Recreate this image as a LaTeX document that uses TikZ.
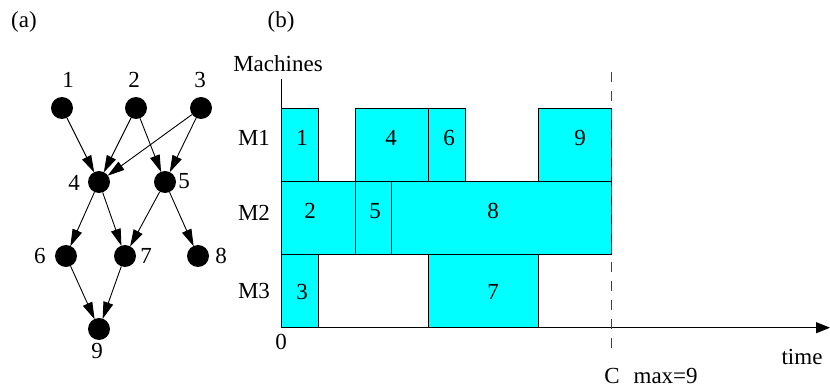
\documentclass[tikz,border=0pt]{standalone}
\usepackage{fontspec}
\setmainfont{Liberation Serif}
\usetikzlibrary{arrows.meta}
\definecolor{aqua}{RGB}{0,255,255}
\begin{document}
\begin{tikzpicture}[x=1pt,y=-1pt,
  font=\fontsize{23}{27}\selectfont,
  dot/.style={circle,fill=black,draw=none,minimum size=22pt,inner sep=0pt},
  lab/.style={inner sep=0pt,anchor=center},
  edge/.style={line width=0.9pt,-{Triangle[length=17pt,width=10pt]}, shorten >=-0.5pt},
  task/.style={draw=black,line width=0.9pt,fill=aqua},
  axis/.style={line width=0.9pt}]
\useasboundingbox (0,0) rectangle (830,387);
% ---------- (a) graph ----------
\node[lab] (ta) at (24,22) {(a)};
\node[dot] (n1) at (62,108) {};
\node[dot] (n2) at (136,108) {};
\node[dot] (n3) at (201,108) {};
\node[dot] (n4) at (99,182) {};
\node[dot] (n5) at (165,182) {};
\node[dot] (n6) at (66,256) {};
\node[dot] (n7) at (125,256) {};
\node[dot] (n8) at (198,256) {};
\node[dot] (n9) at (99,329) {};
\node[lab] (l1) at (68,80) {1};
\node[lab] (l2) at (134,80) {2};
\node[lab] (l3) at (200,80) {3};
\node[lab] (l4) at (74,183) {4};
\node[lab] (l5) at (184,181) {5};
\node[lab] (l6) at (40,256) {6};
\node[lab] (l7) at (146,256) {7};
\node[lab] (l8) at (221,256) {8};
\node[lab] (l9) at (97,351) {9};
\draw[edge] (n1) -- (n4);
\draw[edge] (n2) -- (n4);
\draw[edge] (n2) -- (n5);
\draw[edge] (n3) -- (n4);
\draw[edge] (n3) -- (n5);
\draw[edge] (n4) -- (n6);
\draw[edge] (n4) -- (n7);
\draw[edge] (n5) -- (n7);
\draw[edge] (n5) -- (n8);
\draw[edge] (n6) -- (n9);
\draw[edge] (n7) -- (n9);
% ---------- (b) Gantt chart ----------
\node[lab] (tb) at (281,22) {(b)};
\node[lab] (mach) at (278,64) {Machines};
\draw[task] (281.7,108.3) rectangle (318.3,181.7);
\draw[task] (355,108.3) rectangle (428.3,181.7);
\draw[task] (428.3,108.3) rectangle (465,181.7);
\draw[task] (538.3,108.3) rectangle (611.7,181.7);
\draw[task] (281.7,181.7) rectangle (355,254.3);
\draw[task] (355,181.7) rectangle (391.7,254.3);
\draw[task] (391.7,181.7) rectangle (611.7,254.3);
\draw[task] (281.7,254.3) rectangle (318.3,327.7);
\draw[task] (428.3,254.3) rectangle (538.3,327.7);
\node[lab] (b1) at (302,138) {1};
\node[lab] (b4) at (391,138) {4};
\node[lab] (b6) at (449,138) {6};
\node[lab] (b9) at (580,138) {9};
\node[lab] (b2) at (310,211) {2};
\node[lab] (b5) at (375,211) {5};
\node[lab] (b8) at (493,211) {8};
\node[lab] (b3) at (302,292) {3};
\node[lab] (b7) at (493,292) {7};
\node[lab] (m1) at (254,138) {M1};
\node[lab] (m2) at (254,213) {M2};
\node[lab] (m3) at (254,291) {M3};
% axes
\coordinate (ytop) at (281.7,79);
\coordinate (orig) at (281.7,327.7);
\coordinate (xend) at (830,327.7);
\draw[axis] (ytop) -- (orig);
\draw[axis,-{Triangle[length=14pt,width=11pt]}] (orig) -- (xend);
\node[lab] (zero) at (281,342) {0};
\node[lab] (time) at (802,357) {time};
% Cmax dashed line
\coordinate (dtop) at (611.7,72);
\coordinate (dbot) at (611.7,353);
\draw[line width=0.9pt,draw=black!75,dash pattern=on 10pt off 9pt] (dtop) -- (dbot);
\node[lab] (cmax) at (651,376) {C\hspace{14pt}max=9};
\end{tikzpicture}
\end{document}
